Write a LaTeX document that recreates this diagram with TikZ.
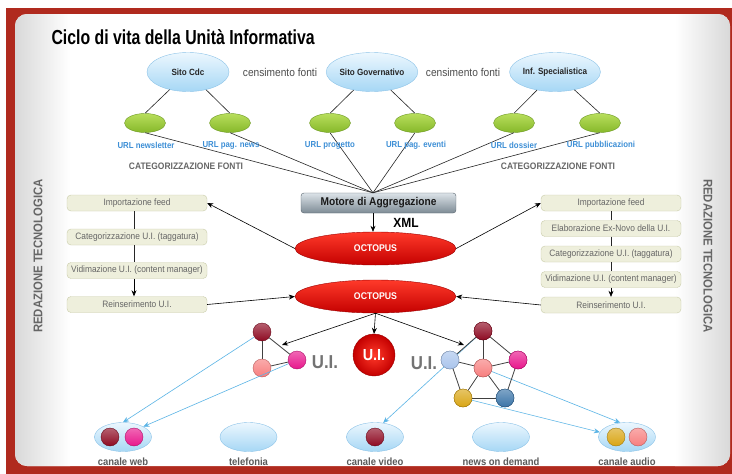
\documentclass[tikz,border=0pt]{standalone}
\usepackage{fontspec}
\setmainfont[FakeStretch=0.9]{Liberation Sans}
\newfontfamily\titlefont[FakeStretch=0.78]{Liberation Sans}
\usetikzlibrary{shapes.geometric,arrows.meta,shadings}

\definecolor{framered}{HTML}{B02A1E}
\definecolor{srcfillA}{HTML}{ECF7FE}
\definecolor{srcfillB}{HTML}{A6D7F5}
\definecolor{srcdraw}{HTML}{8CC3E8}
\definecolor{greenA}{HTML}{B8DE5C}
\definecolor{greenB}{HTML}{86B82A}
\definecolor{greendraw}{HTML}{6E9A25}
\definecolor{urlblue}{HTML}{3D8FD6}
\definecolor{labgray}{HTML}{666666}
\definecolor{motA}{HTML}{DCE3E8}
\definecolor{motB}{HTML}{7D8B95}
\definecolor{motdraw}{HTML}{56626C}
\definecolor{octoA}{HTML}{FF3A2A}
\definecolor{octoB}{HTML}{C40000}
\definecolor{boxfill}{HTML}{EEEFDC}
\definecolor{boxdraw}{HTML}{C9CCA9}
\definecolor{cDark}{HTML}{8E0A22}
\definecolor{cSalmon}{HTML}{F77E7E}
\definecolor{cPink}{HTML}{E8168C}
\definecolor{cLight}{HTML}{A9C4EC}
\definecolor{cGold}{HTML}{D9A514}
\definecolor{cBlue}{HTML}{3A74A8}
\definecolor{linkblue}{HTML}{5AB4E6}

\begin{document}
\begin{tikzpicture}[x=1pt,y=-1pt,
  srcell/.style={ellipse,minimum width=82,minimum height=39,inner sep=0pt,
    draw=srcdraw,top color=srcfillA,bottom color=srcfillB,
    font=\bfseries\fontsize{9}{10}\selectfont,text=black!85},
  censlab/.style={font=\fontsize{11.3}{13}\selectfont,text=black!70},
  urlnode/.style={ellipse,minimum width=41,minimum height=19,inner sep=0pt,
    draw=greendraw,top color=greenA,bottom color=greenB},
  urllab/.style={font=\bfseries\fontsize{8.7}{10}\selectfont,text=urlblue},
  catlab/.style={font=\bfseries\fontsize{9.4}{11}\selectfont,text=labgray},
  motorbox/.style={rectangle,rounded corners=3pt,minimum width=155,minimum height=20,
    inner sep=0pt,draw=motdraw,top color=motA,bottom color=motB,
    font=\bfseries\fontsize{11.3}{13}\selectfont,text=black!90},
  octo/.style={ellipse,minimum width=161,minimum height=33,inner sep=0pt,
    draw=octoB!80!black,top color=octoA,bottom color=octoB,
    font=\bfseries\fontsize{9.7}{11}\selectfont,text=white},
  linkbox/.style={rectangle,rounded corners=4pt,minimum width=140,minimum height=16,
    inner sep=0pt,draw=boxdraw,fill=boxfill,
    font=\fontsize{9.3}{10}\selectfont,text=labgray},
  bigui/.style={circle,minimum size=42,inner sep=0pt,draw=octoB!80!black,
    inner color=octoA,outer color=octoB,
    font=\bfseries\fontsize{16}{17}\selectfont,text=white},
  dot/.style={circle,minimum size=18,inner sep=0pt,top color=#1!65!white,
    bottom color=#1,draw=#1!75!black,line width=0.4pt},
  chan/.style={ellipse,minimum width=57,minimum height=29,inner sep=0pt,
    draw=srcdraw,top color=srcfillA,bottom color=srcfillB},
  chanlab/.style={font=\bfseries\fontsize{10.5}{12}\selectfont,text=black!65},
  uilab/.style={font=\bfseries\fontsize{18.7}{20}\selectfont,text=black!55},
  sidelab/.style={font=\bfseries\fontsize{12.6}{14}\selectfont,text=black!60},
  thin/.style={line width=0.6pt,black!85},
  arr/.style={line width=0.6pt,black,-{Stealth[length=6pt,width=5pt]}},
  barr/.style={line width=0.6pt,linkblue,-{Stealth[length=6pt,width=5pt]}},
  edge/.style={line width=0.8pt,black!75}]
\useasboundingbox (0,0) rectangle (732,474);

% frame and panel
\fill[white] (0,0) rectangle (732,474);
\fill[framered] (6,8) rectangle (732,474);
\fill[white,rounded corners=12pt] (15,14) rectangle (730,466);
\begin{scope}
  \clip[rounded corners=12pt] (15,14) rectangle (730,466);
  \shade[left color=black!15,right color=white] (15,14) rectangle (70,466);
  \shade[left color=white,right color=black!15] (675,14) rectangle (730,466);
\end{scope}

% title
\node[font=\titlefont\bfseries\fontsize{20.3}{22}\selectfont,anchor=west] (title) at (48,37)
  {Ciclo di vita della Unità Informativa};

% sources
\node[srcell] (cdc) at (188,72) {Sito Cdc};
\node[srcell] (gov) at (372,72) {Sito Governativo};
\node[srcell] (spec) at (555,72) {Inf. Specialistica};
\node[censlab] (cens1) at (280,72) {censimento fonti};
\node[censlab] (cens2) at (463,72) {censimento fonti};

% feeds
\node[urlnode] (u1) at (145,123) {};
\node[urlnode] (u2) at (230,123) {};
\node[urlnode] (u3) at (330,123) {};
\node[urlnode] (u4) at (415,123) {};
\node[urlnode] (u5) at (514,123) {};
\node[urlnode] (u6) at (600,123) {};
\draw[thin] (cdc) -- (u1.north);
\draw[thin] (cdc) -- (u2.north);
\draw[thin] (gov) -- (u3.north);
\draw[thin] (gov) -- (u4.north);
\draw[thin] (spec) -- (u5.north);
\draw[thin] (spec) -- (u6.north);

% aggregation engine
\node[motorbox] (mot) at (378.5,203) {Motore di Aggregazione};
\coordinate (hub) at ([xshift=-5.5pt]mot.north);
\foreach \u in {u1,u2,u3,u4,u5,u6} \draw[thin] (\u.south) -- (hub);

\node[urllab] (l1) at (146,145) {URL newsletter};
\node[urllab] (l2) at (231,145) {URL pag. news};
\node[urllab] (l3) at (330,145) {URL progetto};
\node[urllab] (l4) at (416,145) {URL pag. eventi};
\node[urllab] (l5) at (514,145) {URL dossier};
\node[urllab] (l6) at (601,145) {URL pubblicazioni};
\node[catlab] (cat1) at (186,166) {CATEGORIZZAZIONE FONTI};
\node[catlab] (cat2) at (558,166) {CATEGORIZZAZIONE FONTI};

\node[font=\bfseries\fontsize{13.3}{15}\selectfont] (xml) at (406,223) {XML};
\node[octo] (o1) at (375.5,248.5) {OCTOPUS};
\node[octo] (o2) at (375.5,296.5) {OCTOPUS};
\draw[arr] (hub |- mot.south) -- (hub |- o1.north);

% left workflow
\node[linkbox] (a1) at (137,203) {Importazione feed};
\node[linkbox] (a2) at (137,237) {Categorizzazione U.I. (taggatura)};
\node[linkbox] (a3) at (137,270.5) {Vidimazione U.I. (content manager)};
\node[linkbox] (a4) at (137,304.5) {Reinserimento U.I.};
\draw[thin] ([xshift=-3pt]a1.south) -- ([xshift=-3pt]a2.north);
\draw[thin] ([xshift=-3pt]a2.south) -- ([xshift=-3pt]a3.north);
\draw[arr] ([xshift=-3pt]a3.south) -- ([xshift=-3pt]a4.north);

% right workflow
\node[linkbox] (b1) at (611,203) {Importazione feed};
\node[linkbox] (b2) at (611,228.5) {Elaborazione Ex-Novo della U.I.};
\node[linkbox] (b3) at (611,254) {Categorizzazione U.I. (taggatura)};
\node[linkbox] (b4) at (611,279.5) {Vidimazione U.I. (content manager)};
\node[linkbox] (b5) at (611,305) {Reinserimento U.I.};
\draw[thin] (b1) -- (b2);
\draw[thin] (b2) -- (b3);
\draw[thin] (b3) -- (b4);
\draw[arr] (b4) -- (b5);

\draw[arr] (o1.west) -- (a1.east);
\draw[arr] (a4.east) -- (o2.west);
\draw[arr] (o1.east) -- (b1.west);
\draw[arr] (b5.west) -- (o2.east);

\node[sidelab,rotate=90] (side1) at (38,256) {REDAZIONE TECNOLOGICA};
\node[sidelab,rotate=-90] (side2) at (708,256) {REDAZIONE TECNOLOGICA};

% information units
\node[bigui] (ui) at (374,355) {U.I.};

\node[dot=cDark] (d1) at (262,332) {};
\node[dot=cSalmon] (d2) at (262,368) {};
\node[dot=cPink] (d3) at (297,360) {};
\draw[edge] (d1) -- (d2);
\draw[edge] (d2) -- (d3);
\draw[edge] (d1) -- (d3);
\node[uilab] (t1) at (325,362) {U.I.};

\node[dot=cDark] (p1) at (483,331) {};
\node[dot=cLight] (p2) at (450,360) {};
\node[dot=cSalmon] (p3) at (483,368) {};
\node[dot=cPink] (p4) at (518,360) {};
\node[dot=cGold] (p5) at (463,398) {};
\node[dot=cBlue] (p6) at (505,398) {};
\node[uilab] (t2) at (424,363) {U.I.};

\coordinate (ta) at (282,345);
\coordinate (tb) at (464,345);
\draw[arr] (o2.south) -- (ta);
\draw[arr] (o2.south) -- (ui.north);
\draw[arr] (o2.south) -- (tb);

% channels
\node[chan] (web) at (123,437) {};
\node[chan] (tel) at (248.5,437) {};
\node[chan] (vid) at (375,437) {};
\node[chan] (nod) at (501,437) {};
\node[chan] (aud) at (627,437) {};
\node[dot=cDark] (w1) at (110,437) {};
\node[dot=cPink] (w2) at (134,437) {};
\node[dot=cDark] (v1) at (375,437) {};
\node[dot=cGold] (k1) at (616,437) {};
\node[dot=cSalmon] (k2) at (638,437) {};
\node[chanlab] (lw) at (123,462) {canale web};
\node[chanlab] (lt) at (248.5,462) {telefonia};
\node[chanlab] (lv) at (375,462) {canale video};
\node[chanlab] (ln) at (501,462) {news on demand};
\node[chanlab] (la) at (627,462) {canale audio};

\draw[barr] (d1) -- (web.north);
\draw[barr] (d3) -- (web.north east);
\draw[barr] (p1) -- (vid.60);
\draw[barr] (p3) -- (aud.115);
\draw[barr] (p5) -- (aud.170);

% pentagon edges drawn over the links, then the spheres again on top
\draw[edge] (p1) -- (p2);
\draw[edge] (p1) -- (p4);
\draw[edge] (p1) -- (p3);
\draw[edge] (p2) -- (p3);
\draw[edge] (p3) -- (p4);
\draw[edge] (p2) -- (p5);
\draw[edge] (p3) -- (p5);
\draw[edge] (p3) -- (p6);
\draw[edge] (p4) -- (p6);
\draw[edge] (p5) -- (p6);
\foreach \c/\x/\y in {cDark/483/331,cLight/450/360,cSalmon/483/368,
    cPink/518/360,cGold/463/398,cBlue/505/398}
  \node[dot=\c] at (\x,\y) {};
\end{tikzpicture}
\end{document}
